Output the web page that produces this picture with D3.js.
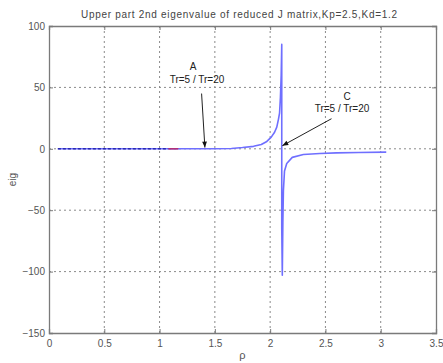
<!DOCTYPE html>
<html><head><meta charset="utf-8">
<script src="https://cdn.jsdelivr.net/npm/d3@7"></script>
<style>body{margin:0;background:#fff}svg{display:block;font-family:"Liberation Sans",Arial,sans-serif}</style>
</head><body>
<script>
const titleText = "Upper part 2nd eigenvalue of reduced J matrix,Kp=2.5,Kd=1.2";
const xTicks = [0, 0.5, 1, 1.5, 2, 2.5, 3, 3.5];
const yTicks = [100, 50, 0, -50, -100, -150];
// main eigenvalue curve (light blue)
const rho = [0.08, 0.5, 1.0, 1.5, 1.65, 1.75, 1.85, 1.92, 1.97, 2.01, 2.04, 2.06, 2.075, 2.085, 2.093, 2.1, 2.105, 2.105, 2.11, 2.115, 2.12, 2.13, 2.15, 2.2, 2.3, 2.45, 2.6, 2.8, 3.05];
const eig = [0, 0, 0, 0, 0.3, 1, 2, 3.5, 6, 9.5, 13.5, 17.6, 24, 29, 42, 60, 85, -64, -103, -60, -34, -18, -12, -7, -4.6, -3.8, -3.3, -3, -2.7];
// overlapping darker segment at the start
const rhoDark = [0.08, 1.08];
const eigDark = [0, 0];
const rhoRed = [1.08, 1.17];
const eigRed = [0, 0];
// annotations
const annA = {label: "A", sub: "Tr=5 / Tr=20"};
const annC = {label: "C", sub: "Tr=5 / Tr=20"};

const W = 443, H = 363;
const m = {l: 49, r: 7, t: 26, b: 30};
const svg = d3.select("body").append("svg").attr("width", W).attr("height", H);
const x = d3.scaleLinear().domain([0, 3.5]).range([m.l, W - m.r]);
const y = d3.scaleLinear().domain([-150, 100]).range([H - m.b, m.t]);
const axisCol = "#7a7a7a";

// grid
const g = svg.append("g");
g.selectAll(".gx").data(xTicks.slice(1, -1)).join("line")
  .attr("x1", d => x(d)).attr("x2", d => x(d)).attr("y1", y(100)).attr("y2", y(-150))
  .attr("stroke", "#8a8a8a").attr("stroke-width", 1).attr("stroke-dasharray", "2,3");
g.selectAll(".gy").data(yTicks.slice(1, -1)).join("line")
  .attr("y1", d => y(d)).attr("y2", d => y(d)).attr("x1", x(0)).attr("x2", x(3.5))
  .attr("stroke", "#8a8a8a").attr("stroke-width", 1).attr("stroke-dasharray", "2,3");

// axes
const xa = svg.append("g").attr("transform", `translate(0,${y(-150)})`)
  .call(d3.axisBottom(x).tickValues(xTicks).tickSize(-4).tickPadding(7).tickFormat(d3.format("")));
const xt = svg.append("g").attr("transform", `translate(0,${y(100)})`)
  .call(d3.axisTop(x).tickValues(xTicks).tickSize(-4).tickFormat(""));
const ya = svg.append("g").attr("transform", `translate(${x(0)},0)`)
  .call(d3.axisLeft(y).tickValues(yTicks).tickSize(-4).tickPadding(4).tickFormat(d3.format("")));
const yr = svg.append("g").attr("transform", `translate(${x(3.5)},0)`)
  .call(d3.axisRight(y).tickValues(yTicks).tickSize(-4).tickFormat(""));
[xa, xt, ya, yr].forEach(a => {
  a.selectAll("path").attr("stroke", axisCol).attr("stroke-width", 1.3);
  a.selectAll("line").attr("stroke", axisCol);
  a.selectAll("text").attr("fill", "#555").attr("font-size", 10).attr("font-family", "Liberation Sans, Arial, sans-serif");
});

// curves
const line = d3.line().x(d => x(d[0])).y(d => y(d[1]));
svg.append("path").datum(d3.zip(rho, eig)).attr("d", line)
  .attr("fill", "none").attr("stroke", "#6f6fff").attr("stroke-width", 1.6).attr("stroke-linejoin", "round");
svg.append("path").datum(d3.zip(rhoDark, eigDark)).attr("d", line)
  .attr("fill", "none").attr("stroke", "#2a2ab0").attr("stroke-width", 1.6).attr("stroke-dasharray", "3,2");
svg.append("path").datum(d3.zip(rhoRed, eigRed)).attr("d", line)
  .attr("fill", "none").attr("stroke", "#b0307a").attr("stroke-width", 1.6);

// titles
svg.append("text").attr("x", 239).attr("y", 18).attr("text-anchor", "middle")
  .attr("font-size", 10).attr("fill", "#444")
  .attr("textLength", 316).attr("lengthAdjust", "spacing").text(titleText);
svg.append("text").attr("x", x(1.75)).attr("y", 359).attr("text-anchor", "middle")
  .attr("font-size", 11).attr("fill", "#555").text("ρ");
svg.append("text").attr("transform", `translate(16,${y(-25)}) rotate(-90)`).attr("text-anchor", "middle")
  .attr("font-size", 10).attr("fill", "#555").text("eig");

// annotations
const defs = svg.append("defs");
defs.append("marker").attr("id", "ah").attr("viewBox", "0 0 10 10").attr("refX", 10).attr("refY", 5)
  .attr("markerWidth", 7).attr("markerHeight", 6).attr("orient", "auto")
  .append("path").attr("d", "M0,1 L10,5 L0,9 Z").attr("fill", "#111");
const ann = svg.append("g").attr("font-size", 10).attr("fill", "#222").attr("text-anchor", "middle");
ann.append("text").attr("x", 193).attr("y", 70).text(annA.label);
ann.append("text").attr("x", 197).attr("y", 83).text(annA.sub);
svg.append("path").attr("d", `M${x(1.38)},${y(45)} L${x(1.41)},${y(1)}`)
  .attr("stroke", "#222").attr("stroke-width", 1).attr("fill", "none").attr("marker-end", "url(#ah)");
ann.append("text").attr("x", 347).attr("y", 100).text(annC.label);
ann.append("text").attr("x", 342).attr("y", 112).text(annC.sub);
svg.append("path").attr("d", `M${x(2.555)},${y(24.5)} L${x(2.11)},${y(2.5)}`)
  .attr("stroke", "#222").attr("stroke-width", 1).attr("fill", "none").attr("marker-end", "url(#ah)");
</script>
</body></html>
